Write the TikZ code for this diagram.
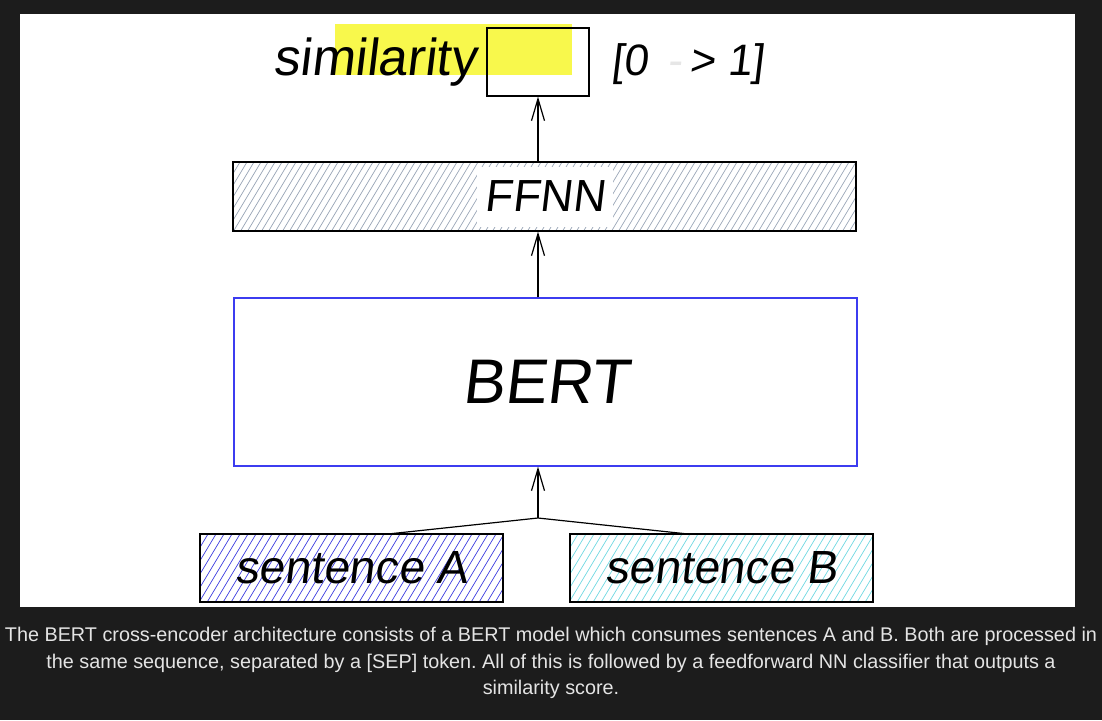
\documentclass[tikz,border=0pt]{standalone}
\usepackage{fontspec}
\setmainfont{Liberation Sans}
\newfontfamily\hand{Liberation Sans}[FakeSlant=0.12]
\usetikzlibrary{arrows.meta,calc}
\pgfdeclarelayer{base}
\pgfdeclarelayer{background}
\pgfsetlayers{base,background,main}
\definecolor{bgdark}{HTML}{1C1C1C}
\definecolor{hl}{HTML}{F8F84C}
\definecolor{capt}{HTML}{E4E4E4}
\definecolor{bertblue}{HTML}{3C3CF0}
\definecolor{hatchgrey}{HTML}{9AA6B8}
\definecolor{hatchblue}{HTML}{3A3AE0}
\definecolor{hatchcyan}{HTML}{6ED8E2}
\definecolor{faint}{HTML}{E6E6E6}
\frenchspacing
\newcommand{\hatch}[6]{%
  \begin{scope}
  \clip (#2,#3) rectangle (#4,#5);
  \pgfmathsetmacro{\hh}{(#5-#3)*0.6}
  \pgfmathsetmacro{\xs}{#2-\hh}
  \pgfmathsetmacro{\xn}{\xs+#6}
  \foreach \x in {\xs,\xn,...,#4} \draw[#1, line width=0.7pt] (\x,#5) -- ++(\hh,-#5+#3);
  \end{scope}}
\begin{document}
\begin{tikzpicture}[x=1pt,y=-1pt,
  box/.style={draw=black, line width=1.2pt, inner sep=0pt},
  handtxt/.style={font=\hand\fontsize{#1}{#1}\selectfont, inner sep=0pt},
  arr/.style={line width=1.2pt, -{Straight Barb[length=22pt,width=13pt]}},
  link/.style={line width=1.2pt}]
\begin{pgfonlayer}{base}
\fill[bgdark] (0,0) rectangle (1102,720);
\fill[white] (20,14) rectangle (1075,607);
\fill[hl] (335,24) rectangle (572,75);
\end{pgfonlayer}
\useasboundingbox (0,0) rectangle (1102,720);
% top output
\node[handtxt=52, anchor=base] (sim) at (375,75) {similarity};
\node[box, minimum width=102, minimum height=68] (out) at (538,62) {};
\node[handtxt=44, anchor=base] (range) at (687.5,75) {[0 \,{\color{faint}-}\,> 1]};
% FFNN
\node[box, minimum width=623, minimum height=69, handtxt=45, draw=black, line width=1.2pt] (ffnn) at (544.5,196.5) {FFNN};
\begin{pgfonlayer}{background}
\hatch{hatchgrey}{233}{162}{856}{231}{7}
\fill[white] ($(ffnn.center)+(-68,-30)$) rectangle ($(ffnn.center)+(68,30)$);
\end{pgfonlayer}
% BERT
\node[box, minimum width=623, minimum height=168, handtxt=63, draw=bertblue, line width=1.2pt] (bert) at (545.5,382) {BERT};
% sentences
\node[box, minimum width=303, minimum height=68, handtxt=46.5, draw=black, line width=1.2pt] (sa) at (351.5,568) {sentence A};
\node[box, minimum width=303, minimum height=68, handtxt=46.5, draw=black, line width=1.2pt] (sb) at (721.5,568) {sentence B};
\begin{pgfonlayer}{background}
\hatch{hatchblue}{200}{534}{503}{602}{8}
\hatch{hatchcyan}{570}{534}{873}{602}{8}
\end{pgfonlayer}
\coordinate (join) at (538,518);
\coordinate (pa) at (388,534);
\coordinate (pb) at (688,534);
% connectors
\draw[arr] (out.south |- ffnn.north) -- (out.south);
\draw[arr] (out.south |- bert.north) -- (out.south |- ffnn.south);
\draw[arr] (join) -- (join |- bert.south);
\draw[link] (pa) -- (join) -- (pb);
% caption
\node[text=capt, font=\fontsize{19.8}{26.5}\selectfont, align=center, anchor=north, inner sep=0pt] (cap) at (551,627)
 {The BERT cross-encoder architecture consists of a BERT model which consumes sentences A and B. Both are processed in\\
  the same sequence, separated by a [SEP] token. All of this is followed by a feedforward NN classifier that outputs a\\
  similarity score.};
\end{tikzpicture}
\end{document}
